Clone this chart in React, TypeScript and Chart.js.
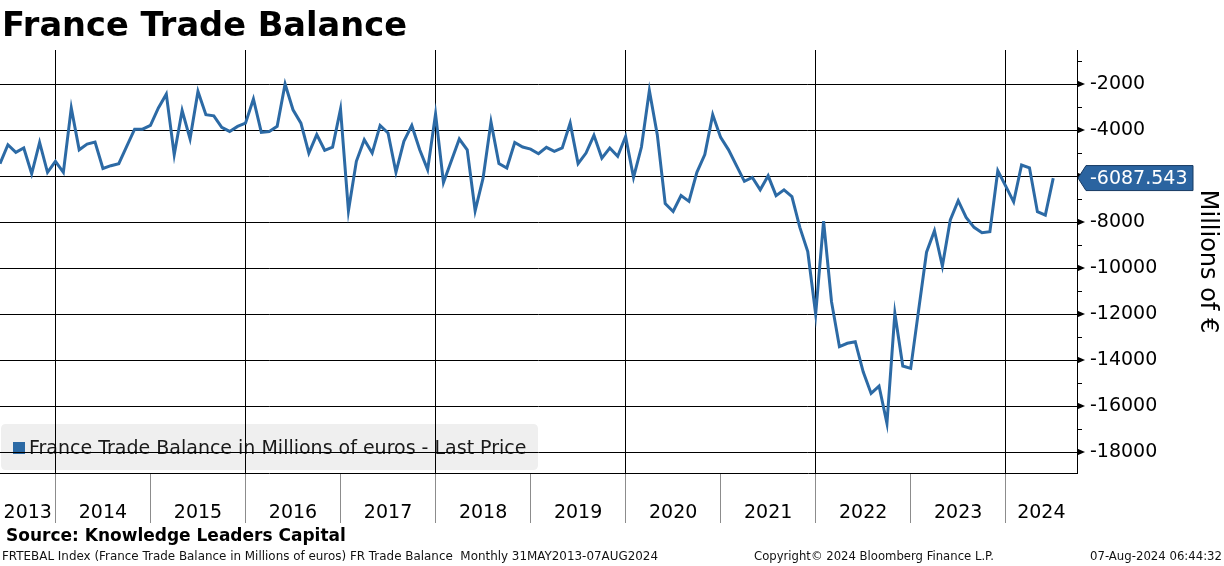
import { useEffect, useRef } from "react";
import { Chart, registerables } from "chart.js";

Chart.register(...registerables);

// ---------- text ----------
const chartTitle = "France Trade Balance";
const seriesName = "France Trade Balance in Millions of euros - Last Price";
const axisTitle = "Millions of \u20AC";
const sourceText = "Source: Knowledge Leaders Capital";
const footLeft =
  "FRTEBAL Index (France Trade Balance in Millions of euros) FR Trade Balance  Monthly 31MAY2013-07AUG2024";
const footMid = "Copyright\u00A9 2024 Bloomberg Finance L.P.";
const footRight = "07-Aug-2024 06:44:32";

// ---------- categories (years, monthly data: May 2013 .. Jun 2024) ----------
const yearLabels = ["2013", "2014", "2015", "2016", "2017", "2018", "2019", "2020", "2021", "2022", "2023", "2024"];

// ---------- series values (millions of euros, month-end) ----------
const v2013 = [-5460, -4640, -4970, -4780, -5900, -4540, -5840, -5360];
const v2014 = [-5840, -3040, -4860, -4610, -4520, -5670, -5550, -5460, -4710, -3960, -3960, -3800];
const v2015 = [-3040, -2440, -5070, -3150, -4380, -2320, -3330, -3380, -3880, -4060, -3840, -3700];
const v2016 = [-2650, -4100, -4060, -3840, -2000, -3120, -3700, -5000, -4200, -4880, -4740, -3090];
const v2017 = [-7510, -5360, -4420, -5000, -3800, -4130, -5840, -4490, -3800, -4860, -5720, -3300];
const v2018 = [-6280, -5330, -4390, -4860, -7510, -6090, -3650, -5460, -5650, -4540, -4740, -4830];
const v2019 = [-5030, -4750, -4930, -4780, -3700, -5460, -5000, -4230, -5220, -4780, -5140, -4280];
const v2020 = [-6060, -4740, -2280, -4200, -7200, -7540, -6850, -7100, -5840, -5070, -3330, -4320];
const v2021 = [-4860, -5550, -6230, -6060, -6600, -5990, -6850, -6600, -6890, -8230, -9280, -12000];
const v2022 = [-7960, -11460, -13420, -13270, -13200, -14510, -15450, -15130, -16750, -11970, -14260, -14360];
const v2023 = [-11830, -9310, -8380, -9910, -7910, -7070, -7800, -8230, -8460, -8420, -5770, -6440];
const v2024 = [-7120, -5520, -5640, -7550, -7700, -6087.543];
const yearValues = [v2013, v2014, v2015, v2016, v2017, v2018, v2019, v2020, v2021, v2022, v2023, v2024];

const lastPrice = -6087.543;

// ---------- axis ticks ----------
const yMajorTicks = [-2000, -4000, -6000, -8000, -10000, -12000, -14000, -16000, -18000];
const yMinorTicks = [-1000, -3000, -5000, -7000, -9000, -11000, -13000, -15000, -17000];
const yMin = -18910;
const yMax = -520;
const xMaxMonths = 136; // visible range extends a little past the last observation

// ---------- style ----------
const FONT = '"DejaVu Sans", Verdana, sans-serif';
const lineColor = "#2c6aa5";

export default function App() {
  const ref = useRef<HTMLCanvasElement | null>(null);

  useEffect(() => {
    const canvas = ref.current;
    if (!canvas) return;

    const series: number[] = ([] as number[]).concat(...yearValues);
    const points = series.map((v, i) => ({ x: i, y: v }));

    // year boundaries (index of the December observation closing each year)
    const boundaries: { value: number; year: number }[] = [];
    let cum = 0;
    for (let k = 0; k < yearValues.length - 1; k++) {
      cum += yearValues[k].length;
      boundaries.push({ value: cum - 1, year: Number(yearLabels[k + 1]) });
    }
    const mids: { value: number; label: string }[] = [];
    for (let k = 0; k < yearLabels.length; k++) {
      const a = k === 0 ? 0 : boundaries[k - 1].value;
      const b = k === yearLabels.length - 1 ? xMaxMonths : boundaries[k].value;
      mids.push({ value: (a + b) / 2, label: yearLabels[k] });
    }
    const boundaryMap = new Map<number, number>();
    boundaries.forEach((b) => boundaryMap.set(b.value, b.year));
    const midMap = new Map<number, string>();
    mids.forEach((m) => midMap.set(m.value, m.label));

    const decor = {
      id: "decor",
      beforeDraw(chart: any) {
        const ctx: CanvasRenderingContext2D = chart.ctx;
        ctx.save();
        ctx.fillStyle = "#ffffff";
        ctx.fillRect(0, 0, chart.width, chart.height);
        // legend box (drawn beneath the grid, as in the reference)
        const lx = 1, ly = 424, lw = 537, lh = 46, r = 5;
        ctx.beginPath();
        ctx.moveTo(lx + r, ly);
        ctx.lineTo(lx + lw - r, ly);
        ctx.quadraticCurveTo(lx + lw, ly, lx + lw, ly + r);
        ctx.lineTo(lx + lw, ly + lh - r);
        ctx.quadraticCurveTo(lx + lw, ly + lh, lx + lw - r, ly + lh);
        ctx.lineTo(lx + r, ly + lh);
        ctx.quadraticCurveTo(lx, ly + lh, lx, ly + lh - r);
        ctx.lineTo(lx, ly + r);
        ctx.quadraticCurveTo(lx, ly, lx + r, ly);
        ctx.closePath();
        ctx.fillStyle = "#efefef";
        ctx.fill();
        ctx.fillStyle = lineColor;
        ctx.fillRect(13, 442, 12, 12);
        ctx.fillStyle = "#1a1a1a";
        ctx.font = `19px ${FONT}`;
        ctx.textBaseline = "middle";
        ctx.textAlign = "left";
        ctx.fillText(seriesName, 29, 449, 498);
        ctx.restore();
      },
      afterDraw(chart: any) {
        const ctx: CanvasRenderingContext2D = chart.ctx;
        const ys = chart.scales.y;
        const area = chart.chartArea;
        ctx.save();
        // title
        ctx.fillStyle = "#000";
        ctx.font = `bold 34px ${FONT}`;
        ctx.textBaseline = "alphabetic";
        ctx.textAlign = "left";
        ctx.fillText(chartTitle, 2, 36, 405);
        // source + footer
        ctx.font = `bold 17px ${FONT}`;
        ctx.textBaseline = "middle";
        ctx.fillText(sourceText, 6, 537, 342);
        ctx.font = `12px ${FONT}`;
        ctx.fillStyle = "#111";
        ctx.fillText(footLeft, 2, 557, 656);
        ctx.fillText(footMid, 754, 557, 240);
        ctx.textAlign = "right";
        ctx.fillText(footRight, 1222, 557, 132);
        // y-axis tick marks
        ctx.fillStyle = "#000";
        ctx.strokeStyle = "#000";
        ctx.lineWidth = 1;
        const x0 = area.right;
        yMajorTicks.forEach((v) => {
          const y = ys.getPixelForValue(v);
          ctx.beginPath();
          ctx.moveTo(x0, y - 3.5);
          ctx.lineTo(x0 + 8, y);
          ctx.lineTo(x0, y + 3.5);
          ctx.closePath();
          ctx.fill();
        });
        yMinorTicks.forEach((v) => {
          const y = Math.round(ys.getPixelForValue(v)) + 0.5;
          ctx.beginPath();
          ctx.moveTo(x0, y);
          ctx.lineTo(x0 + 5, y);
          ctx.stroke();
        });
        // last price tag
        const py = ys.getPixelForValue(lastPrice);
        const h = 25;
        ctx.beginPath();
        ctx.moveTo(x0 + 1, py);
        ctx.lineTo(x0 + 9, py - h / 2);
        ctx.lineTo(x0 + 116, py - h / 2);
        ctx.lineTo(x0 + 116, py + h / 2);
        ctx.lineTo(x0 + 9, py + h / 2);
        ctx.closePath();
        ctx.fillStyle = "#2b64a0";
        ctx.fill();
        ctx.strokeStyle = "#173a63";
        ctx.stroke();
        ctx.fillStyle = "#ffffff";
        ctx.font = `19px ${FONT}`;
        ctx.textAlign = "left";
        ctx.textBaseline = "middle";
        ctx.fillText(String(lastPrice), x0 + 13, py + 1, 101);
        ctx.restore();
      },
    };

    const chart = new Chart(canvas, {
      type: "line",
      data: {
        datasets: [
          {
            label: seriesName,
            data: points,
            borderColor: lineColor,
            backgroundColor: lineColor,
            borderWidth: 3,
            pointRadius: 0,
            tension: 0,
            fill: false,
          },
        ],
      },
      options: {
        responsive: false,
        maintainAspectRatio: false,
        animation: false,
        layout: { padding: { top: 50, left: 0, right: 0, bottom: 43 } },
        plugins: {
          legend: { display: false },
          title: { display: false },
          tooltip: { enabled: false },
        },
        scales: {
          x: {
            type: "linear",
            position: "bottom",
            min: 0,
            max: xMaxMonths,
            afterBuildTicks: (scale: any) => {
              const vals = [...mids.map((m) => m.value), ...boundaries.map((b) => b.value)].sort((a, b) => a - b);
              scale.ticks = vals.map((v) => ({ value: v }));
            },
            afterFit: (scale: any) => {
              scale.height = 50;
              scale.paddingLeft = 0;
              scale.paddingRight = 0;
            },
            border: { display: true, color: "#000", width: 1 },
            grid: {
              drawOnChartArea: true,
              drawTicks: true,
              tickLength: 50,
              lineWidth: 1,
              color: (c: any) => {
                const yr = c.tick ? boundaryMap.get(c.tick.value) : undefined;
                return yr !== undefined && yr % 2 === 0 ? "#000" : "rgba(0,0,0,0)";
              },
              tickColor: (c: any) => {
                const yr = c.tick ? boundaryMap.get(c.tick.value) : undefined;
                return yr !== undefined ? "#8c8c8c" : "rgba(0,0,0,0)";
              },
            },
            ticks: {
              autoSkip: false,
              maxRotation: 0,
              minRotation: 0,
              padding: -21,
              color: "#000",
              font: { family: FONT, size: 19 },
              callback: (v: any) => midMap.get(Number(v)) ?? "",
            },
          },
          y: {
            type: "linear",
            position: "right",
            min: yMin,
            max: yMax,
            afterBuildTicks: (scale: any) => {
              scale.ticks = yMajorTicks.map((v) => ({ value: v }));
            },
            afterFit: (scale: any) => {
              scale.width = 147;
            },
            border: { display: true, color: "#000", width: 1 },
            grid: {
              drawOnChartArea: true,
              drawTicks: true,
              tickLength: 8,
              tickColor: "rgba(0,0,0,0)",
              color: "#000",
              lineWidth: 1,
            },
            ticks: {
              padding: 5,
              color: "#000",
              font: { family: FONT, size: 19 },
              callback: (v: any) => String(v),
            },
            title: {
              display: true,
              text: axisTitle,
              color: "#000",
              font: { family: FONT, size: 24 },
              padding: { top: 2, bottom: 0 },
            },
          },
        },
      },
      plugins: [decor],
    } as any);

    return () => chart.destroy();
  }, []);

  return (
    <div style={{ position: "fixed", left: 0, top: 0, width: 1224, height: 566, background: "#fff" }}>
      <canvas ref={ref} width={1224} height={566} style={{ display: "block", width: 1224, height: 566 }} />
    </div>
  );
}
